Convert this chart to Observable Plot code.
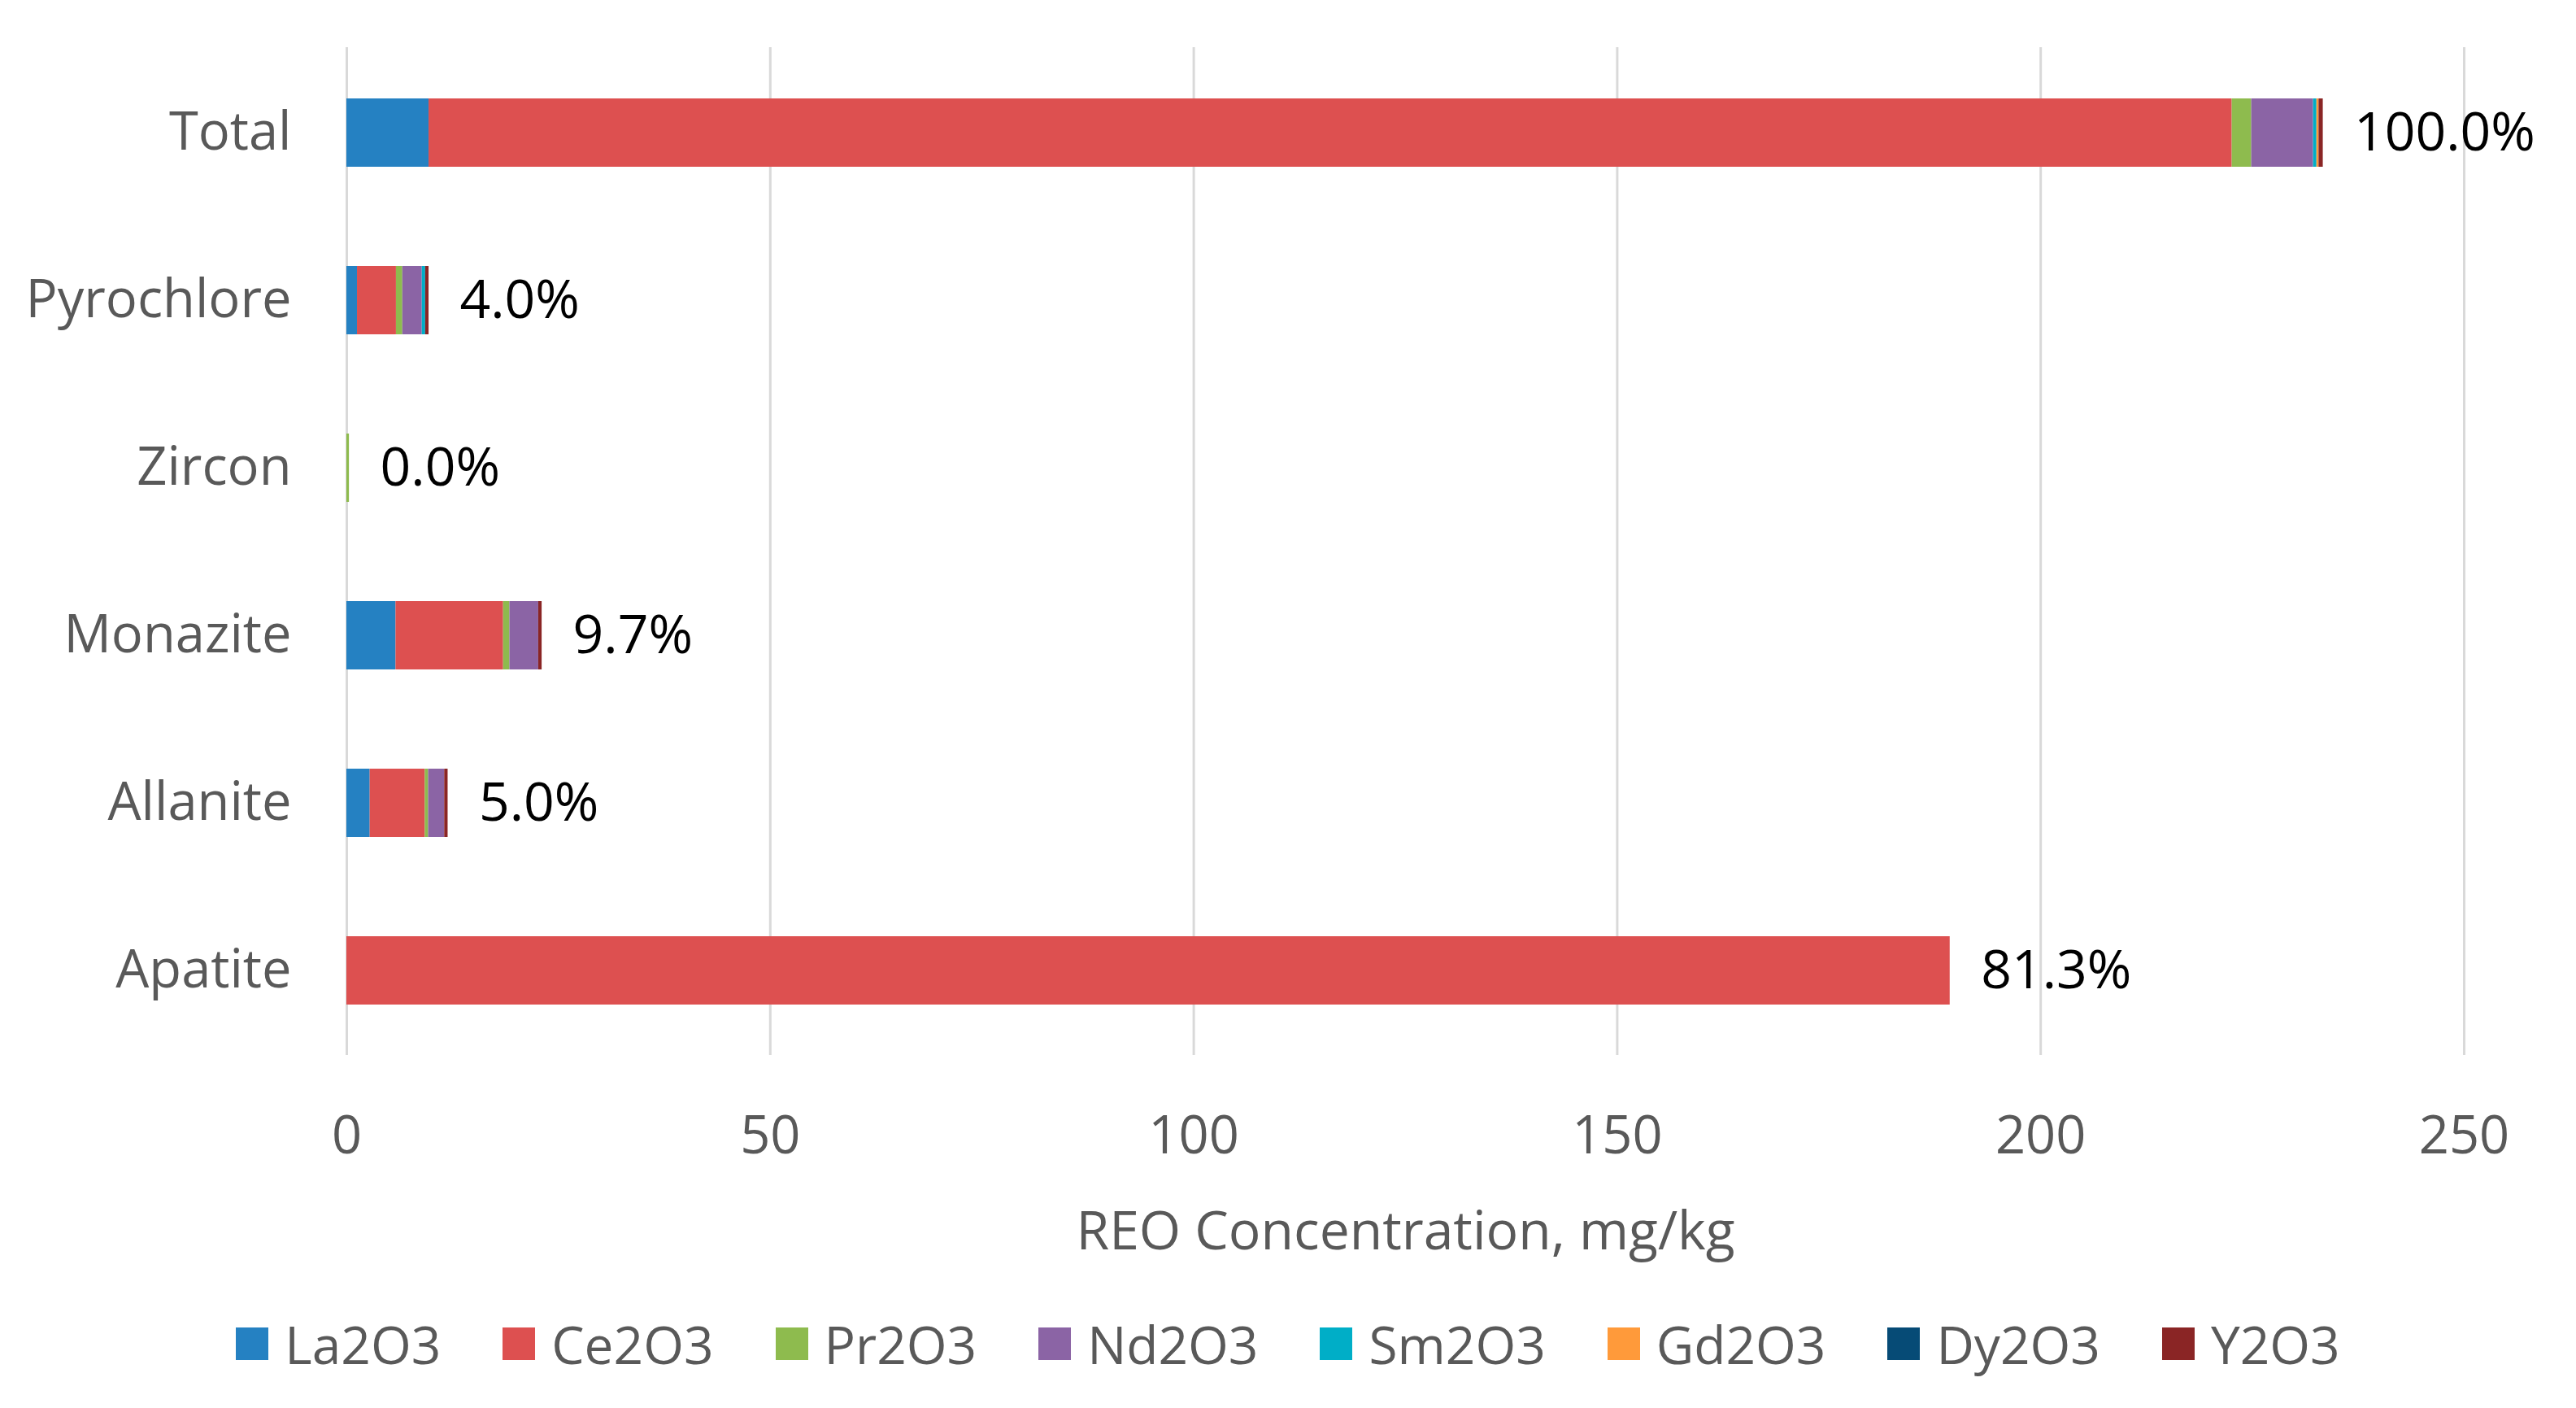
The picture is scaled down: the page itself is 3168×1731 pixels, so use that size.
<!DOCTYPE html>
<html>
<head>
<meta charset="utf-8">
<script src="https://cdn.jsdelivr.net/npm/d3@7"></script>
<script src="https://cdn.jsdelivr.net/npm/@observablehq/plot@0.6"></script>
<style>
  html, body { margin: 0; padding: 0; background: #ffffff; }
  #chart { width: 3168px; }
  #legend { width: 3168px; height: 144px; display: flex; justify-content: center; align-items: center; }
  #legend .lg-swatches { display: flex !important; align-items: center; justify-content: center; margin: 0 !important; min-height: 0 !important;
    font-family: 'Open Sans', sans-serif !important; font-size: 64px !important; color: #595959 !important; }
  #legend .lg-swatch { margin-right: 76px !important; display: inline-flex; align-items: center; }
  #legend .lg-swatch:last-child { margin-right: 0 !important; }
  #legend .lg-swatch svg { margin-right: 20px !important; }
</style>
</head>
<body>
<div id="chart"></div>
<div id="legend"></div>
<script>
// Categories (top to bottom)
const categories = ["Total", "Pyrochlore", "Zircon", "Monazite", "Allanite", "Apatite"];
// Series (REO concentration, mg/kg), one value per category in the order above
const oxides = ["La2O3", "Ce2O3", "Pr2O3", "Nd2O3", "Sm2O3", "Gd2O3", "Dy2O3", "Y2O3"];
const La2O3 = [9.7, 1.25, 0, 5.8, 2.75, 0];
const Ce2O3 = [212.9, 4.6, 0, 12.7, 6.5, 189.3];
const Pr2O3 = [2.3, 0.75, 0.3, 0.75, 0.4, 0];
const Nd2O3 = [7.3, 2.3, 0, 3.4, 1.9, 0];
const Sm2O3 = [0.4, 0.4, 0, 0, 0, 0];
const Gd2O3 = [0.25, 0, 0, 0, 0, 0];
const Dy2O3 = [0, 0, 0, 0, 0, 0];
const Y2O3 = [0.5, 0.4, 0, 0.4, 0.4, 0];
// Share labels
const shareLabels = ["100.0%", "4.0%", "0.0%", "9.7%", "5.0%", "81.3%"];
// Axis ticks & labels
const xTicks = [0, 50, 100, 150, 200, 250];
const xLabel = "REO Concentration, mg/kg";
const colors = ["#2581C2", "#DD5050", "#8EBB4E", "#8B64A5", "#00AEC7", "#FF9A3A", "#064B76", "#8A2525"];

const series = [La2O3, Ce2O3, Pr2O3, Nd2O3, Sm2O3, Gd2O3, Dy2O3, Y2O3];
const rows = [];
oxides.forEach((ox, i) => {
  categories.forEach((cat, j) => {
    rows.push({category: cat, oxide: ox, value: series[i][j]});
  });
});
const totals = categories.map((cat, j) => ({
  category: cat,
  total: d3.sum(series, s => s[j]),
  label: shareLabels[j]
}));

const chart = Plot.plot({
  width: 3168,
  height: 1580,
  marginTop: 58,
  marginBottom: 283,
  marginLeft: 426,
  marginRight: 138,
  style: {fontFamily: "'Open Sans', sans-serif", fontSize: "65px", color: "#595959", background: "#ffffff"},
  x: {domain: [0, 250]},
  y: {domain: categories, paddingInner: 0.593, paddingOuter: 0.2965},
  color: {domain: oxides, range: colors},
  marks: [
    Plot.ruleX(xTicks, {stroke: "#d9d9d9", strokeWidth: 3}),
    Plot.barX(rows, {x: "value", y: "category", fill: "oxide"}),
    Plot.text(totals, {x: "total", y: "category", text: "label", textAnchor: "start", dx: 38, fill: "#000000", fontSize: 66}),
    Plot.axisX({ticks: xTicks, tickSize: 0, tickPadding: 74, label: null, fontSize: 65, fill: "#595959"}),
    Plot.axisY({tickSize: 0, tickPadding: 68, label: null, fontSize: 65, fill: "#595959"}),
    Plot.text([xLabel], {text: d => d, frameAnchor: "bottom", dy: 238, fontSize: 66, fill: "#595959"})
  ]
});
document.getElementById("chart").appendChild(chart);

const legend = Plot.legend({
  color: {domain: oxides, range: colors},
  legend: "swatches",
  swatchSize: 40,
  className: "lg"
});
document.getElementById("legend").appendChild(legend);
</script>
</body>
</html>
